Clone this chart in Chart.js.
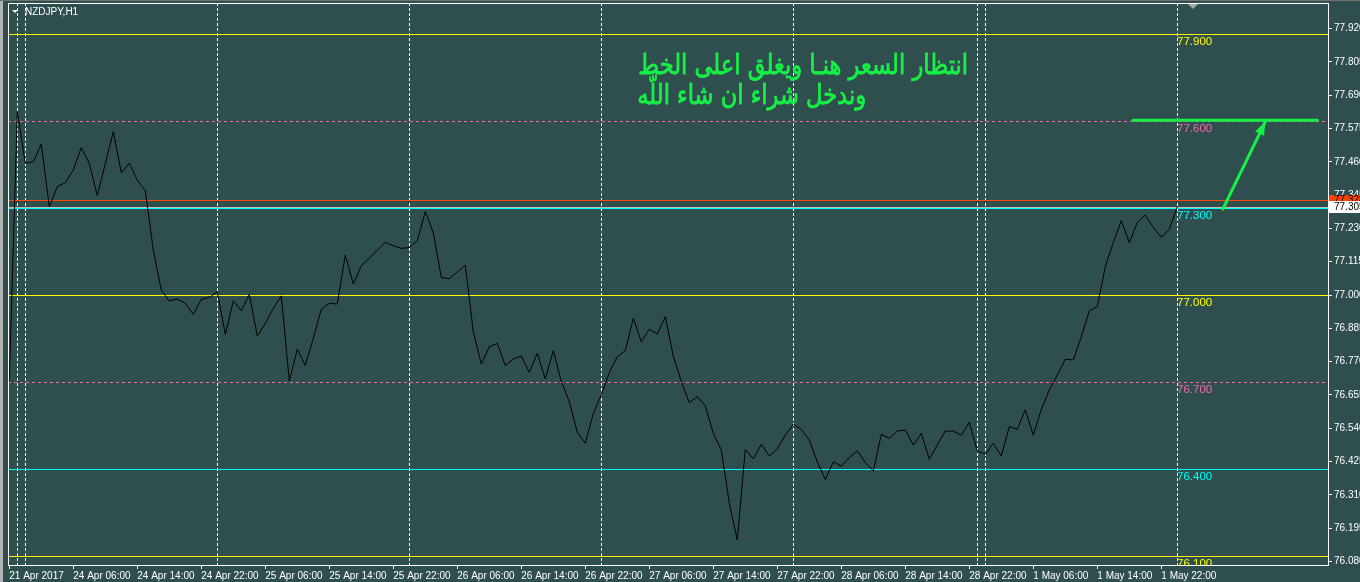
<!DOCTYPE html>
<html><head><meta charset="utf-8">
<script src="https://cdn.jsdelivr.net/npm/chart.js@4/dist/chart.umd.min.js"></script>
<style>html,body{margin:0;padding:0;background:#2F4F4F;overflow:hidden}canvas{display:block}</style>
</head><body><canvas id="c" width="1360" height="582"></canvas>
<script>
const symbolTitle = 'NZDJPY,H1';
const tickLabels = ['21 Apr 2017','24 Apr 06:00','24 Apr 14:00','24 Apr 22:00','25 Apr 06:00','25 Apr 14:00','25 Apr 22:00','26 Apr 06:00','26 Apr 14:00','26 Apr 22:00','27 Apr 06:00','27 Apr 14:00','27 Apr 22:00','28 Apr 06:00','28 Apr 14:00','28 Apr 22:00','1 May 06:00','1 May 14:00','1 May 22:00'];
const barsPerTick = 8;
const closes = [
 76.700, 77.633, 77.455, 77.460, 77.521, 77.305, 77.374, 77.388, 77.432, 77.509,
 77.455, 77.343, 77.454, 77.564, 77.422, 77.455, 77.397, 77.360, 77.155, 77.017,
 76.979, 76.986, 76.971, 76.933, 76.985, 76.992, 77.011, 76.864, 76.980, 76.946,
 77.002, 76.858, 76.902, 76.954, 76.997, 76.703, 76.812, 76.757, 76.850, 76.951,
 76.971, 76.969, 77.138, 77.038, 77.101, 77.127, 77.155, 77.182, 77.170, 77.161,
 77.164, 77.188, 77.288, 77.215, 77.061, 77.056, 77.080, 77.103, 76.873, 76.762,
 76.821, 76.833, 76.756, 76.779, 76.789, 76.733, 76.799, 76.710, 76.808, 76.701,
 76.631, 76.526, 76.488, 76.591, 76.655, 76.732, 76.787, 76.808, 76.920, 76.839,
 76.882, 76.865, 76.925, 76.789, 76.701, 76.628, 76.649, 76.618, 76.522, 76.465,
 76.281, 76.154, 76.467, 76.434, 76.484, 76.444, 76.468, 76.516, 76.553, 76.536,
 76.499, 76.424, 76.363, 76.424, 76.409, 76.438, 76.462, 76.421, 76.392, 76.519,
 76.505, 76.530, 76.534, 76.482, 76.522, 76.433, 76.482, 76.530, 76.530, 76.516,
 76.560, 76.461, 76.450, 76.488, 76.444, 76.545, 76.536, 76.603, 76.516, 76.605,
 76.672, 76.724, 76.778, 76.776, 76.856, 76.945, 76.960, 77.098, 77.181, 77.257,
 77.181, 77.251, 77.276, 77.234, 77.199, 77.227, 77.305];
const yTicks = [76.080,76.195,76.310,76.425,76.540,76.655,76.770,76.885,77.000,77.115,77.230,77.345,77.460,77.575,77.690,77.805,77.920];
const separatorBars = [1,2,26,50,74,98,121,122,146];
const levelValues = [77.900, 77.600, 77.328, 77.305, 77.300, 77.000, 76.700, 76.400, 76.100];
const levelColors = ['#FFFF00','#F06AA8','#FF4500','#C0C0C0','#00FFFF','#FFFF00','#F06AA8','#00FFFF','#FFFF00'];
const levelDashed = [false,true,false,false,false,false,true,false,false];
const levelLabels = ['77.900','77.600','','','77.300','77.000','76.700','76.400','76.100'];
const labelBar = 146;
const bidPrice = 77.305, bidText = '77.305';
const alertPrice = 77.328, alertText = '77.328';
const shiftBar = 148;
const targetX = [140.5, 163.5];
const targetPrice = 77.604;
const arrowX = [151.7, 157.0];
const arrowY = [77.297, 77.598];
const noteLines = ['انتظار السعر هنـا ويغلق اعلى الخط', 'وندخل شراء ان شاء اللّه'];
const noteRightBar = [119.84, 107.1];
const noteLeftBar = [78.6, 79.5];
const notePrice = [77.763, 77.660];

const xMin = -0.1625, xMax = 164.8375;
const yMin = 76.0674, yMax = 78.0086;
const GREEN = '#16F046';
const AXIS_FONT = {family:'Liberation Sans', size:10};

const mt4 = {
  id:'mt4',
  beforeDraw(chart){
    const {ctx, width, height} = chart;
    ctx.save();
    ctx.fillStyle='#2F4F4F'; ctx.fillRect(0,0,width,height);
    ctx.fillStyle='#B4B4B4'; ctx.fillRect(0,0,3,height);
    ctx.fillStyle='#707070'; ctx.fillRect(0,0,width,1);
    ctx.restore();
  },
  beforeDatasetsDraw(chart){
    const {ctx, chartArea:a, scales:{x,y}} = chart;
    ctx.save();
    ctx.beginPath(); ctx.rect(a.left,a.top,a.right-a.left,a.bottom-a.top); ctx.clip();
    ctx.lineWidth=1;
    ctx.strokeStyle='#FFFFFF'; ctx.setLineDash([3,2]);
    separatorBars.forEach(b=>{const px=Math.round(x.getPixelForValue(b))+0.5; ctx.beginPath(); ctx.moveTo(px,a.top); ctx.lineTo(px,a.bottom); ctx.stroke();});
    levelValues.forEach((v,i)=>{
      const py=Math.round(y.getPixelForValue(v))+0.5;
      ctx.setLineDash(levelDashed[i]?[3,3]:[]);
      ctx.strokeStyle=levelColors[i];
      ctx.beginPath(); ctx.moveTo(a.left,py); ctx.lineTo(a.right,py); ctx.stroke();
    });
    ctx.setLineDash([]);
    ctx.font='11.5px "Liberation Sans"'; ctx.textAlign='left'; ctx.textBaseline='top';
    const lx = Math.round(x.getPixelForValue(labelBar));
    levelValues.forEach((v,i)=>{
      if(!levelLabels[i]) return;
      ctx.fillStyle=levelColors[i];
      ctx.fillText(levelLabels[i], lx, Math.round(y.getPixelForValue(v))+2);
    });
    ctx.restore();
  },
  afterDatasetsDraw(chart){
    const {ctx, chartArea:a, scales:{x,y}} = chart;
    ctx.save();
    const x0=x.getPixelForValue(arrowX[0]), y0=y.getPixelForValue(arrowY[0]);
    const x1=x.getPixelForValue(arrowX[1]), y1=y.getPixelForValue(arrowY[1]);
    const ang=Math.atan2(y1-y0,x1-x0), L=13, W=5;
    const bx=x1-L*Math.cos(ang), by=y1-L*Math.sin(ang);
    ctx.fillStyle=GREEN;
    ctx.beginPath();
    ctx.moveTo(x1,y1);
    ctx.lineTo(bx+W*Math.sin(ang), by-W*Math.cos(ang));
    ctx.lineTo(bx-W*Math.sin(ang), by+W*Math.cos(ang));
    ctx.closePath(); ctx.fill();
    // notes
    ctx.direction='rtl';
    ctx.textAlign='right'; ctx.textBaseline='alphabetic';
    ctx.font='24px "DejaVu Sans"';
    const w0=ctx.measureText(noteLines[0]).width;
    const target=x.getPixelForValue(noteRightBar[0])-x.getPixelForValue(noteLeftBar[0]);
    const fs=24*target/w0;
    ctx.font=fs.toFixed(2)+'px "DejaVu Sans"';
    ctx.strokeStyle=GREEN; ctx.lineWidth=0.7; ctx.lineJoin='round';
    noteLines.forEach((t,i)=>{
      const tx=x.getPixelForValue(noteRightBar[i]), ty=y.getPixelForValue(notePrice[i]);
      ctx.save();
      ctx.translate(tx,ty); ctx.scale(1,1.2);
      ctx.fillText(t,0,0); ctx.strokeText(t,0,0);
      ctx.restore();
    });
    ctx.restore();
  },
  afterDraw(chart){
    const {ctx, chartArea:a, scales:{x,y}, width} = chart;
    ctx.save();
    ctx.strokeStyle='#FFFFFF'; ctx.lineWidth=1;
    ctx.strokeRect(a.left+0.5, a.top+0.5, a.right-a.left, a.bottom-a.top);
    ctx.fillStyle='#FFFFFF';
    ctx.beginPath(); ctx.moveTo(a.left+4,a.top+7); ctx.lineTo(a.left+10,a.top+7); ctx.lineTo(a.left+7,a.top+10); ctx.closePath(); ctx.fill();
    ctx.font='10px "Liberation Sans"'; ctx.textAlign='left'; ctx.textBaseline='middle';
    ctx.fillText(symbolTitle, a.left+17, a.top+9.5);
    const sx=Math.round(x.getPixelForValue(shiftBar));
    ctx.fillStyle='#A8A8A8';
    ctx.beginPath(); ctx.moveTo(sx-5,a.top+1); ctx.lineTo(sx+5,a.top+1); ctx.lineTo(sx,a.top+6); ctx.closePath(); ctx.fill();
    ctx.font='10px "Liberation Sans"'; ctx.textBaseline='middle';
    const ay=Math.round(y.getPixelForValue(alertPrice));
    ctx.fillStyle='#FF4500'; ctx.fillRect(a.right+1, ay-5, width-a.right, 11);
    ctx.fillStyle='#000000'; ctx.fillText(alertText, a.right+6, ay);
    const by=Math.round(y.getPixelForValue(bidPrice));
    ctx.fillStyle='#FFFFFF'; ctx.fillRect(a.right+1, by-6, width-a.right, 12);
    ctx.fillStyle='#000000'; ctx.fillText(bidText, a.right+6, by);
    ctx.restore();
  }
};

new Chart(document.getElementById('c'), {
  type:'line',
  data:{datasets:[
    {data: closes.map((v,i)=>({x:i,y:v})), borderColor:'#000000', borderWidth:1, pointRadius:0, tension:0},
    {data: targetX.map(v=>({x:v,y:targetPrice})), borderColor:GREEN, borderWidth:3, pointRadius:0, borderCapStyle:'round'},
    {data: arrowX.map((v,i)=>({x:v,y:arrowY[i]})), borderColor:GREEN, borderWidth:3, pointRadius:0, borderCapStyle:'round'}
  ]},
  options:{
    responsive:false, animation:false, devicePixelRatio:1,
    layout:{padding:{left:8, top:3, right:0, bottom:0}},
    plugins:{legend:{display:false}, tooltip:{enabled:false}},
    scales:{
      x:{type:'linear', position:'bottom', min:xMin, max:xMax,
        afterBuildTicks:s=>{s.ticks=tickLabels.map((_,i)=>({value:i*barsPerTick}));},
        afterFit:s=>{s.height=17; s.paddingLeft=0; s.paddingRight=0;},
        grid:{drawOnChartArea:false, drawTicks:true, tickLength:4, color:'#FFFFFF'},
        border:{display:false},
        ticks:{align:'start', autoSkip:false, maxRotation:0, minRotation:0, padding:1, color:'#FFFFFF', font:AXIS_FONT,
          callback:v=>tickLabels[Math.round(v/barsPerTick)]}
      },
      y:{type:'linear', position:'right', min:yMin, max:yMax,
        afterBuildTicks:s=>{s.ticks=yTicks.map(v=>({value:v}));},
        afterFit:s=>{s.width=32; s.paddingTop=0; s.paddingBottom=0;},
        grid:{drawOnChartArea:false, drawTicks:true, tickLength:4, color:'#FFFFFF'},
        border:{display:false},
        ticks:{padding:2, color:'#FFFFFF', font:AXIS_FONT, autoSkip:false, callback:v=>Number(v).toFixed(3)}
      }
    }
  },
  plugins:[mt4]
});
</script>
</body></html>
